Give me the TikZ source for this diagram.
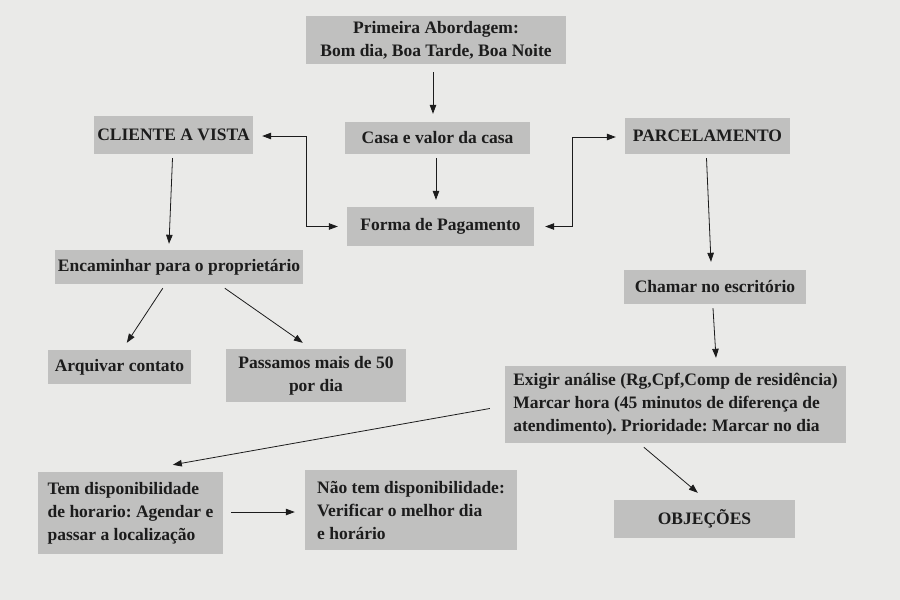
\documentclass[tikz,border=0pt]{standalone}
\usepackage{fontspec}
\setmainfont{Liberation Serif}
\usetikzlibrary{arrows.meta}
\frenchspacing
\definecolor{bgcol}{RGB}{234,234,232}
\definecolor{boxcol}{RGB}{192,192,191}
\definecolor{inkcol}{RGB}{28,28,28}
\tikzset{
  box/.style={fill=boxcol, inner sep=0pt, text=inkcol, font=\fontsize{17.5}{23}\selectfont\bfseries\frenchspacing, align=center},
  conn/.style={draw=inkcol, line width=0.8pt, -{Triangle[length=9pt,width=6.5pt]}},
  conn2/.style={draw=inkcol, line width=0.8pt, {Triangle[length=9pt,width=6.5pt]}-{Triangle[length=9pt,width=6.5pt]}}
}
\begin{document}
\begin{tikzpicture}[x=1pt,y=-1pt]
\fill[bgcol] (0,0) rectangle (900,600);
\useasboundingbox (0,0) rectangle (900,600);

\node[box, minimum width=260, minimum height=48] (p1) at (436,40) {Primeira Abordagem:\\Bom dia, Boa Tarde, Boa Noite};
\node[box, minimum width=185, minimum height=32] (casa) at (437.5,138) {Casa e valor da casa};
\node[box, minimum width=187, minimum height=39] (forma) at (440.5,226.5) {Forma de Pagamento};
\node[box, minimum width=159, minimum height=38] (cliente) at (173.5,135) {CLIENTE A VISTA};
\node[box, minimum width=165, minimum height=36] (parc) at (707.5,136) {PARCELAMENTO};
\node[box, minimum width=248, minimum height=34] (enc) at (179,267) {Encaminhar para o proprietário};
\node[box, minimum width=182, minimum height=34] (chamar) at (715,287) {Chamar no escritório};
\node[box, minimum width=143, minimum height=34] (arq) at (119.5,367) {Arquivar contato};
\node[box, minimum width=180, minimum height=53] (pass) at (316,375.5) {Passamos mais de 50\\por dia};
\node[box, minimum width=341, minimum height=77, align=left] (exig) at (675.5,404.5) {Exigir análise (Rg,Cpf,Comp de residência)\\Marcar hora (45 minutos de diferença de\\atendimento). Prioridade: Marcar no dia};
\node[box, minimum width=185, minimum height=82, align=left] (tem) at (130.5,513) {Tem disponibilidade\\de horario: Agendar e\\passar a localização};
\node[box, minimum width=212, minimum height=80, align=left] (nao) at (411,510) {Não tem disponibilidade:\\Verificar o melhor dia\\e horário};
\node[box, minimum width=181, minimum height=38] (obj) at (704.5,519) {OBJEÇÕES};

\draw[conn] ([shift={(-3,8)}]p1.south) -- ([shift={(-4.5,-8)}]casa.north);
\draw[conn] ([shift={(-1.5,4)}]casa.south) -- ([shift={(-4.5,-7)}]forma.north);
\draw[conn2] ([shift={(9,1)}]cliente.east) -- ++(44,0) |- ([shift={(-9,0)}]forma.west);
\draw[conn2] ([shift={(11,0)}]forma.east) -- ++(27,0) |- ([shift={(-9,1)}]parc.west);
\draw[conn] ([shift={(-1,4)}]cliente.south) -- ([shift={(-10,-6)}]enc.north);
\draw[conn] ([shift={(-1,4)}]parc.south) -- ([shift={(-4,-8)}]chamar.north);
\draw[conn] ([shift={(-2,4)}]chamar.south) -- ([shift={(40.5,-8)}]exig.north);
\draw[conn] ([shift={(108,4)}]enc.south west) -- ([shift={(79,-7)}]arq.north west);
\draw[conn] ([shift={(170,4)}]enc.south west) -- ([shift={(77,-6)}]pass.north west);
\draw[conn] ([shift={(-15,4)}]exig.west) -- ([shift={(135,-7)}]tem.north west);
\draw[conn] ([shift={(139,4)}]exig.south west) -- ([shift={(84,-7)}]obj.north west);
\draw[conn] ([shift={(8,-1)}]tem.east) -- ([shift={(-10,2)}]nao.west);
\end{tikzpicture}
\end{document}
